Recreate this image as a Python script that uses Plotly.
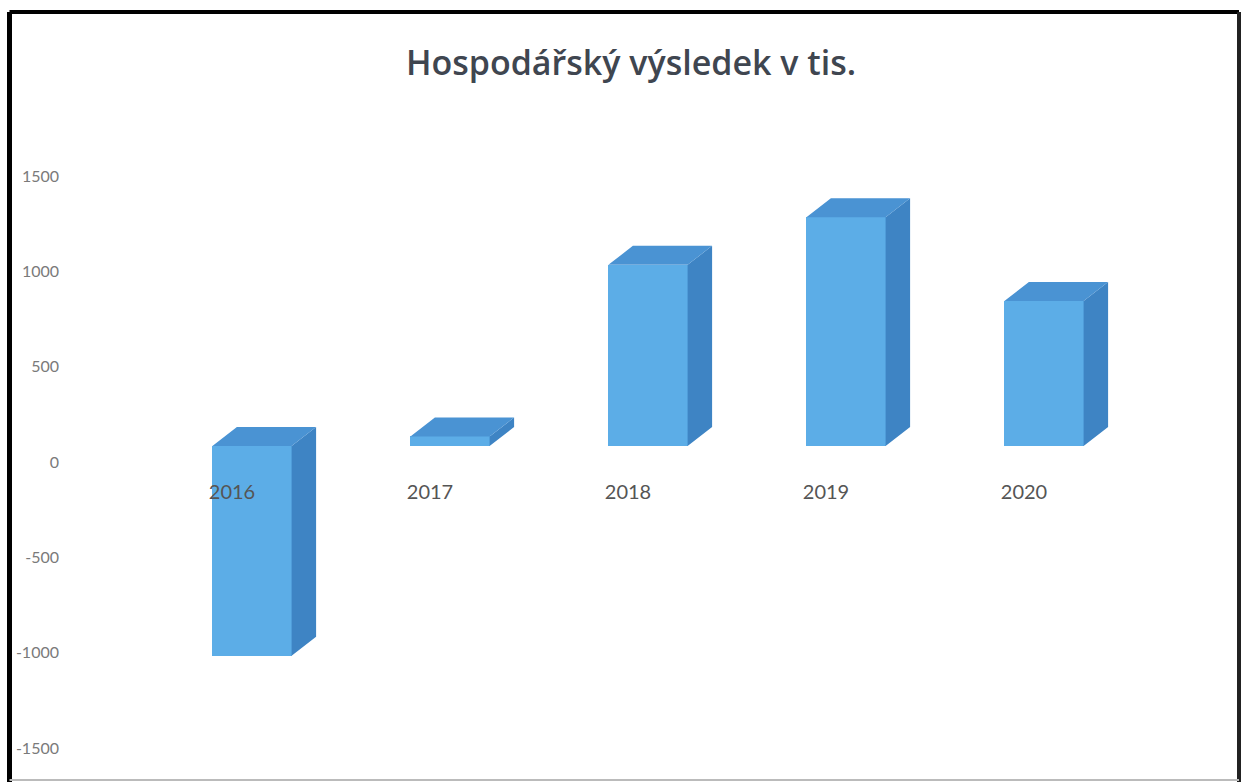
import plotly.graph_objects as go

# ---- data ----
years = ["2016", "2017", "2018", "2019", "2020"]
values = [-1100, 50, 950, 1200, 760]
y_ticks = [-1500, -1000, -500, 0, 500, 1000, 1500]
title_text = "Hospodářský výsledek v tis."

# ---- style / geometry (pixels -> axis ranges) ----
W, H = 1244, 782
ML = 64
px_per_cat = 198.0
front_center0 = 252.0
px_per_val = 95.33 / 500.0
bar_zero_px = 446.0
label_zero_px = 462.0
bar_w = 0.40
depth_dx = 24.5 / px_per_cat
depth_dy = 19.0 / px_per_val
label_shift = 20.0 / px_per_cat

x0 = -(front_center0 - ML) / px_per_cat
x1 = x0 + (W - ML) / px_per_cat
yb_max = bar_zero_px / px_per_val
yb_min = -(H - bar_zero_px) / px_per_val
yl_max = label_zero_px / px_per_val
yl_min = -(H - label_zero_px) / px_per_val

FRONT = "#5CADE7"
TOP = "#4A93D3"
SIDE = "#3E84C4"

xs = list(range(len(years)))

# top and side faces computed from the values
top_x, top_y, side_x, side_y = [], [], [], []
for i, v in zip(xs, values):
    lo, hi = min(0, v), max(0, v)
    l, r = i - bar_w / 2, i + bar_w / 2
    top_x += [l, r, r + depth_dx, l + depth_dx, l, None]
    top_y += [hi, hi, hi + depth_dy, hi + depth_dy, hi, None]
    side_x += [r, r, r + depth_dx, r + depth_dx, r, None]
    side_y += [lo, hi, hi + depth_dy, lo + depth_dy, lo, None]

fig = go.Figure()
fig.add_trace(go.Scatter(x=side_x, y=side_y, xaxis="x", yaxis="y2", mode="lines",
                         fill="toself", fillcolor=SIDE, line=dict(width=0, color=SIDE),
                         hoverinfo="skip", showlegend=False))
fig.add_trace(go.Scatter(x=top_x, y=top_y, xaxis="x", yaxis="y2", mode="lines",
                         fill="toself", fillcolor=TOP, line=dict(width=0, color=TOP),
                         hoverinfo="skip", showlegend=False))
fig.add_trace(go.Bar(x=xs, y=values, xaxis="x", yaxis="y2", width=bar_w,
                     marker=dict(color=FRONT, line=dict(width=0)), showlegend=False))
# invisible trace to carry the category label axis
fig.add_trace(go.Scatter(x=xs, y=values, xaxis="x2", yaxis="y2", mode="markers",
                         marker=dict(opacity=0), hoverinfo="skip", showlegend=False))
# invisible trace for the value label axis
fig.add_trace(go.Scatter(x=xs, y=values, xaxis="x", yaxis="y", mode="markers",
                         marker=dict(opacity=0), hoverinfo="skip", showlegend=False))

label_line_px = 478.0
fig.update_layout(
    width=W, height=H,
    margin=dict(l=ML, r=0, t=0, b=0),
    paper_bgcolor="white", plot_bgcolor="white",
    font=dict(family="Lato", color="#595959"),
    title=dict(text=title_text, x=(631 - ML) / (W - ML), xref="paper", xanchor="center",
               y=1 - 63 / H, yref="container", yanchor="middle",
               font=dict(family="Open Sans", size=34, color="#3F4650", weight=600)),
    xaxis=dict(range=[x0, x1], visible=False, fixedrange=True),
    xaxis2=dict(range=[x0 + label_shift, x1 + label_shift], overlaying="x", anchor="free",
                position=1 - label_line_px / H, tickmode="array", tickvals=xs, ticktext=years,
                showline=False, showgrid=False, zeroline=False, ticks="",
                tickfont=dict(family="Lato", size=20, color="#555555")),
    yaxis=dict(range=[yl_min, yl_max], tickmode="array", tickvals=y_ticks,
               ticktext=[str(t) for t in y_ticks], showgrid=False, zeroline=False,
               showline=False, ticks="", ticklabelstandoff=4,
               tickfont=dict(family="Lato", size=16, color="#7A7A7A")),
    yaxis2=dict(range=[yb_min, yb_max], overlaying="y", visible=False),
    bargap=0,
    shapes=[
        dict(type="line", xref="paper", yref="paper", x0=(9.5 - ML) / (W - ML), x1=(9.5 - ML) / (W - ML),
             y0=1 - 12 / H, y1=0, line=dict(color="black", width=5)),
        dict(type="line", xref="paper", yref="paper", x0=(9.5 - ML) / (W - ML), x1=(1239 - ML) / (W - ML),
             y0=1 - 12 / H, y1=1 - 12 / H, line=dict(color="black", width=4)),
        dict(type="line", xref="paper", yref="paper", x0=(1239 - ML) / (W - ML), x1=(1239 - ML) / (W - ML),
             y0=1 - 12 / H, y1=0, line=dict(color="#222222", width=4)),
        dict(type="line", xref="paper", yref="paper", x0=(9.5 - ML) / (W - ML), x1=(1239 - ML) / (W - ML),
             y0=2 / H, y1=2 / H, line=dict(color="#BBBBBB", width=2)),
    ],
)
fig.write_html("out.html")
